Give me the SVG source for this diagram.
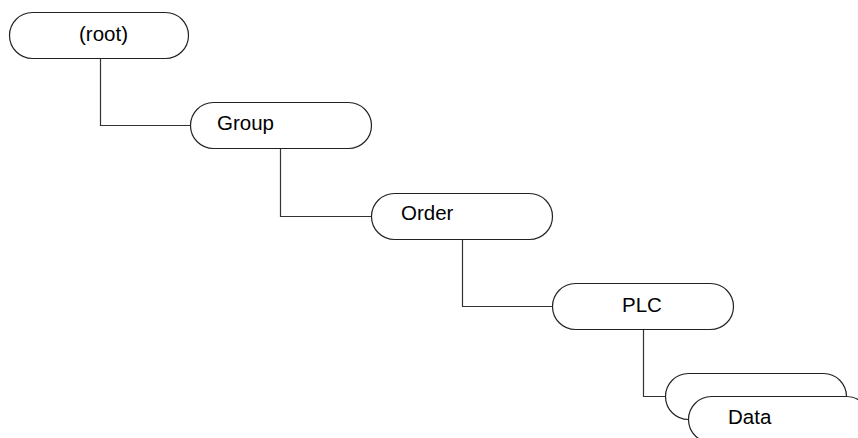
<svg xmlns="http://www.w3.org/2000/svg" width="858" height="438" viewBox="0 0 858 438">
<style>
.node rect{fill:#fff;stroke:#222;stroke-width:1.2}
.lbl{font-family:"Liberation Sans",Arial,sans-serif;font-size:20.5px;fill:#000}
.conn path{fill:none;stroke:#333;stroke-width:1.2}
</style>
<rect width="858" height="438" fill="#fff"/>
<g class="conn" id="connectors">
<path d="M100.5 58 V125.5 H190"/>
<path d="M280.5 148 V216.5 H371"/>
<path d="M462.5 239 V306.5 H552"/>
<path d="M643.5 329 V396.5 H665"/>
</g>
<g class="node" id="root"><rect x="9.5" y="12.5" width="179" height="46" rx="23" ry="23"/><text class="lbl" x="79" y="40.5">(root)</text></g>
<g class="node" id="group"><rect x="190.5" y="102.5" width="181" height="46" rx="23" ry="23"/><text class="lbl" x="217" y="130">Group</text></g>
<g class="node" id="order"><rect x="371.5" y="193.5" width="181" height="46" rx="23" ry="23"/><text class="lbl" x="401" y="220">Order</text></g>
<g class="node" id="plc"><rect x="552.5" y="283.5" width="181" height="46" rx="23" ry="23"/><text class="lbl" x="622" y="311.5">PLC</text></g>
<g class="node" id="data-back"><rect x="665.5" y="373.5" width="181" height="46" rx="23" ry="23"/></g>
<g class="node" id="data"><rect x="688.5" y="396.5" width="181" height="46" rx="23" ry="23"/><text class="lbl" x="728" y="423.5">Data</text></g>
</svg>
